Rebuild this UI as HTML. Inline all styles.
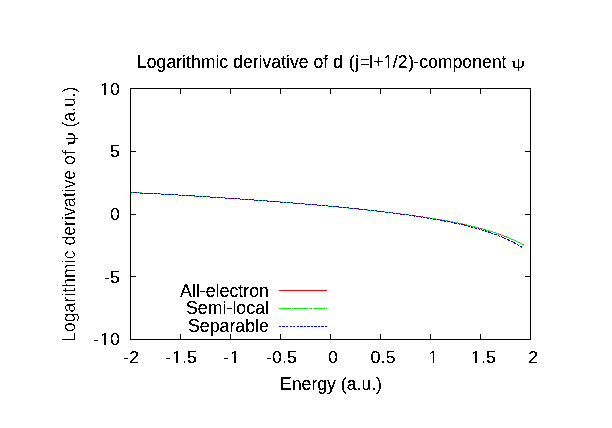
<!DOCTYPE html>
<html><head><meta charset="utf-8"><title>Logarithmic derivative of d (j=l+1/2)-component</title>
<style>
html,body{margin:0;padding:0;background:#fff;width:612px;height:428px;overflow:hidden}
svg{display:block}
</style></head><body>
<svg width="612" height="428" viewBox="0 0 612 428">
<defs><filter id="th" x="-5%" y="-5%" width="110%" height="110%"><feComponentTransfer><feFuncA type="discrete" tableValues="0 0 1 1 1"/></feComponentTransfer></filter><filter id="th2" x="-5%" y="-5%" width="110%" height="110%"><feComponentTransfer><feFuncA type="discrete" tableValues="0 0 0 1 1"/></feComponentTransfer></filter></defs>
<rect width="612" height="428" fill="#fff"/>
<g fill="none" stroke-width="1" shape-rendering="crispEdges">
<polyline points="130.5,192.50 132.0,192.57 133.5,192.63 135.0,192.70 136.5,192.76 138.0,192.83 139.5,192.90 141.0,192.97 142.5,193.05 144.0,193.12 145.5,193.20 147.0,193.27 148.5,193.35 150.0,193.43 151.5,193.51 153.0,193.59 154.5,193.67 156.0,193.75 157.5,193.83 159.0,193.91 160.5,194.00 162.0,194.08 163.5,194.17 165.0,194.25 166.5,194.34 168.0,194.43 169.5,194.51 171.0,194.60 172.5,194.69 174.0,194.78 175.5,194.87 177.0,194.96 178.5,195.05 180.0,195.14 181.5,195.23 183.0,195.32 184.5,195.41 186.0,195.51 187.5,195.60 189.0,195.69 190.5,195.78 192.0,195.88 193.5,195.97 195.0,196.06 196.5,196.16 198.0,196.25 199.5,196.35 201.0,196.44 202.5,196.54 204.0,196.63 205.5,196.73 207.0,196.83 208.5,196.92 210.0,197.02 211.5,197.12 213.0,197.21 214.5,197.31 216.0,197.41 217.5,197.51 219.0,197.61 220.5,197.70 222.0,197.80 223.5,197.90 225.0,198.00 226.5,198.10 228.0,198.20 229.5,198.30 231.0,198.40 232.5,198.50 234.0,198.61 235.5,198.71 237.0,198.81 238.5,198.91 240.0,199.02 241.5,199.12 243.0,199.22 244.5,199.33 246.0,199.43 247.5,199.54 249.0,199.64 250.5,199.75 252.0,199.85 253.5,199.96 255.0,200.07 256.5,200.18 258.0,200.28 259.5,200.39 261.0,200.50 262.5,200.61 264.0,200.72 265.5,200.83 267.0,200.94 268.5,201.06 270.0,201.17 271.5,201.28 273.0,201.40 274.5,201.51 276.0,201.62 277.5,201.74 279.0,201.86 280.5,201.97 282.0,202.09 283.5,202.21 285.0,202.33 286.5,202.45 288.0,202.57 289.5,202.69 291.0,202.81 292.5,202.93 294.0,203.05 295.5,203.17 297.0,203.30 298.5,203.42 300.0,203.55 301.5,203.67 303.0,203.80 304.5,203.93 306.0,204.06 307.5,204.19 309.0,204.32 310.5,204.45 312.0,204.58 313.5,204.71 315.0,204.84 316.5,204.98 318.0,205.11 319.5,205.24 321.0,205.38 322.5,205.52 324.0,205.65 325.5,205.79 327.0,205.93 328.5,206.07 330.0,206.21 331.5,206.35 333.0,206.50 334.5,206.64 336.0,206.78 337.5,206.93 339.0,207.07 340.5,207.22 342.0,207.37 343.5,207.52 345.0,207.66 346.5,207.81 348.0,207.96 349.5,208.12 351.0,208.27 352.5,208.42 354.0,208.58 355.5,208.73 357.0,208.89 358.5,209.05 360.0,209.20 361.5,209.36 363.0,209.52 364.5,209.68 366.0,209.85 367.5,210.01 369.0,210.17 370.5,210.34 372.0,210.50 373.5,210.67 375.0,210.84 376.5,211.01 378.0,211.18 379.5,211.35 381.0,211.53 382.5,211.70 384.0,211.87 385.5,212.05 387.0,212.23 388.5,212.41 390.0,212.59 391.5,212.77 393.0,212.95 394.5,213.14 396.0,213.33 397.5,213.51 399.0,213.70 400.5,213.89 402.0,214.09 403.5,214.28 405.0,214.48 406.5,214.67 408.0,214.87 409.5,215.07 411.0,215.28 412.5,215.48 414.0,215.69 415.5,215.90 417.0,216.11 418.5,216.32 420.0,216.54 421.5,216.76 423.0,216.98 424.5,217.20 426.0,217.43 427.5,217.66 429.0,217.89 430.5,218.12 432.0,218.36 433.5,218.60 435.0,218.84 436.5,219.09 438.0,219.34 439.5,219.59 441.0,219.85 442.5,220.11 444.0,220.37 445.5,220.64 447.0,220.91 448.5,221.19 450.0,221.47 451.5,221.76 453.0,222.05 454.5,222.34 456.0,222.64 457.5,222.94 459.0,223.25 460.5,223.57 462.0,223.89 463.5,224.22 465.0,224.55 466.5,224.89 468.0,225.23 469.5,225.58 471.0,225.94 472.5,226.31 474.0,226.68 475.5,227.06 477.0,227.45 478.5,227.84 480.0,228.24 481.5,228.66 483.0,229.08 484.5,229.51 486.0,229.94 487.5,230.39 489.0,230.85 490.5,231.31 492.0,231.79 493.5,232.28 495.0,232.78 496.5,233.29 498.0,233.81 499.5,234.34 501.0,234.89 502.5,235.45 504.0,236.02 505.5,236.60 507.0,237.20 508.5,237.81 510.0,238.44 511.5,239.08 513.0,239.73 514.5,240.40 516.0,241.09 517.5,241.80 519.0,242.52 520.5,243.26 522.0,244.01 523.5,244.79" stroke="#ff0000"/>
<polyline points="130.5,192.50 132.0,192.57 133.5,192.63 135.0,192.70 136.5,192.76 138.0,192.83 139.5,192.90 141.0,192.97 142.5,193.05 144.0,193.12 145.5,193.20 147.0,193.27 148.5,193.35 150.0,193.43 151.5,193.51 153.0,193.59 154.5,193.67 156.0,193.75 157.5,193.83 159.0,193.91 160.5,194.00 162.0,194.08 163.5,194.17 165.0,194.25 166.5,194.34 168.0,194.43 169.5,194.51 171.0,194.60 172.5,194.69 174.0,194.78 175.5,194.87 177.0,194.96 178.5,195.05 180.0,195.14 181.5,195.23 183.0,195.32 184.5,195.41 186.0,195.51 187.5,195.60 189.0,195.69 190.5,195.78 192.0,195.88 193.5,195.97 195.0,196.06 196.5,196.16 198.0,196.25 199.5,196.35 201.0,196.44 202.5,196.54 204.0,196.63 205.5,196.73 207.0,196.83 208.5,196.92 210.0,197.02 211.5,197.12 213.0,197.21 214.5,197.31 216.0,197.41 217.5,197.51 219.0,197.61 220.5,197.70 222.0,197.80 223.5,197.90 225.0,198.00 226.5,198.10 228.0,198.20 229.5,198.30 231.0,198.40 232.5,198.50 234.0,198.61 235.5,198.71 237.0,198.81 238.5,198.91 240.0,199.02 241.5,199.12 243.0,199.22 244.5,199.33 246.0,199.43 247.5,199.54 249.0,199.64 250.5,199.75 252.0,199.85 253.5,199.96 255.0,200.07 256.5,200.18 258.0,200.28 259.5,200.39 261.0,200.50 262.5,200.61 264.0,200.72 265.5,200.83 267.0,200.94 268.5,201.06 270.0,201.17 271.5,201.28 273.0,201.40 274.5,201.51 276.0,201.62 277.5,201.74 279.0,201.86 280.5,201.97 282.0,202.09 283.5,202.21 285.0,202.33 286.5,202.45 288.0,202.57 289.5,202.69 291.0,202.81 292.5,202.93 294.0,203.05 295.5,203.17 297.0,203.30 298.5,203.42 300.0,203.55 301.5,203.67 303.0,203.80 304.5,203.93 306.0,204.06 307.5,204.19 309.0,204.32 310.5,204.45 312.0,204.58 313.5,204.71 315.0,204.84 316.5,204.98 318.0,205.11 319.5,205.24 321.0,205.38 322.5,205.52 324.0,205.65 325.5,205.79 327.0,205.93 328.5,206.07 330.0,206.21 331.5,206.35 333.0,206.50 334.5,206.64 336.0,206.78 337.5,206.93 339.0,207.07 340.5,207.22 342.0,207.37 343.5,207.52 345.0,207.66 346.5,207.81 348.0,207.96 349.5,208.12 351.0,208.27 352.5,208.42 354.0,208.58 355.5,208.73 357.0,208.89 358.5,209.05 360.0,209.20 361.5,209.36 363.0,209.52 364.5,209.68 366.0,209.85 367.5,210.01 369.0,210.17 370.5,210.34 372.0,210.50 373.5,210.67 375.0,210.84 376.5,211.01 378.0,211.18 379.5,211.35 381.0,211.53 382.5,211.70 384.0,211.87 385.5,212.05 387.0,212.23 388.5,212.41 390.0,212.59 391.5,212.77 393.0,212.95 394.5,213.14 396.0,213.33 397.5,213.51 399.0,213.70 400.5,213.89 402.0,214.09 403.5,214.28 405.0,214.48 406.5,214.67 408.0,214.87 409.5,215.07 411.0,215.28 412.5,215.48 414.0,215.69 415.5,215.90 417.0,216.11 418.5,216.32 420.0,216.54 421.5,216.76 423.0,216.98 424.5,217.20 426.0,217.43 427.5,217.66 429.0,217.89 430.5,218.12 432.0,218.36 433.5,218.60 435.0,218.84 436.5,219.09 438.0,219.34 439.5,219.59 441.0,219.85 442.5,220.11 444.0,220.37 445.5,220.64 447.0,220.91 448.5,221.19 450.0,221.47 451.5,221.76 453.0,222.05 454.5,222.34 456.0,222.64 457.5,222.94 459.0,223.25 460.5,223.57 462.0,223.89 463.5,224.22 465.0,224.55 466.5,224.89 468.0,225.23 469.5,225.58 471.0,225.94 472.5,226.31 474.0,226.68 475.5,227.06 477.0,227.45 478.5,227.84 480.0,228.24 481.5,228.66 483.0,229.08 484.5,229.51 486.0,229.94 487.5,230.39 489.0,230.85 490.5,231.31 492.0,231.79 493.5,232.28 495.0,232.78 496.5,233.29 498.0,233.81 499.5,234.34 501.0,234.89 502.5,235.45 504.0,236.02 505.5,236.60 507.0,237.20 508.5,237.81 510.0,238.44 511.5,239.08 513.0,239.73 514.5,240.40 516.0,241.09 517.5,241.80 519.0,242.52 520.5,243.26 522.0,244.01 523.5,244.79" stroke="#00ff00" stroke-dasharray="16 1 3 1"/>
<polyline points="130.5,192.47 132.0,192.55 133.5,192.63 135.0,192.71 136.5,192.79 138.0,192.87 139.5,192.95 141.0,193.03 142.5,193.11 144.0,193.18 145.5,193.26 147.0,193.34 148.5,193.41 150.0,193.49 151.5,193.57 153.0,193.65 154.5,193.72 156.0,193.80 157.5,193.88 159.0,193.96 160.5,194.04 162.0,194.12 163.5,194.20 165.0,194.28 166.5,194.36 168.0,194.44 169.5,194.52 171.0,194.60 172.5,194.69 174.0,194.77 175.5,194.86 177.0,194.94 178.5,195.03 180.0,195.11 181.5,195.20 183.0,195.29 184.5,195.38 186.0,195.47 187.5,195.56 189.0,195.65 190.5,195.74 192.0,195.83 193.5,195.92 195.0,196.01 196.5,196.11 198.0,196.20 199.5,196.30 201.0,196.39 202.5,196.49 204.0,196.58 205.5,196.68 207.0,196.78 208.5,196.88 210.0,196.98 211.5,197.07 213.0,197.17 214.5,197.27 216.0,197.37 217.5,197.47 219.0,197.58 220.5,197.68 222.0,197.78 223.5,197.88 225.0,197.99 226.5,198.09 228.0,198.19 229.5,198.30 231.0,198.40 232.5,198.51 234.0,198.61 235.5,198.72 237.0,198.82 238.5,198.93 240.0,199.03 241.5,199.14 243.0,199.25 244.5,199.35 246.0,199.46 247.5,199.57 249.0,199.68 250.5,199.79 252.0,199.89 253.5,200.00 255.0,200.11 256.5,200.22 258.0,200.33 259.5,200.44 261.0,200.55 262.5,200.66 264.0,200.77 265.5,200.89 267.0,201.00 268.5,201.11 270.0,201.22 271.5,201.33 273.0,201.45 274.5,201.56 276.0,201.68 277.5,201.79 279.0,201.90 280.5,202.02 282.0,202.14 283.5,202.25 285.0,202.37 286.5,202.48 288.0,202.60 289.5,202.72 291.0,202.84 292.5,202.96 294.0,203.08 295.5,203.20 297.0,203.32 298.5,203.44 300.0,203.56 301.5,203.68 303.0,203.81 304.5,203.93 306.0,204.06 307.5,204.18 309.0,204.31 310.5,204.43 312.0,204.56 313.5,204.69 315.0,204.82 316.5,204.95 318.0,205.08 319.5,205.21 321.0,205.34 322.5,205.48 324.0,205.61 325.5,205.74 327.0,205.88 328.5,206.02 330.0,206.16 331.5,206.29 333.0,206.43 334.5,206.57 336.0,206.72 337.5,206.86 339.0,207.00 340.5,207.15 342.0,207.29 343.5,207.44 345.0,207.59 346.5,207.74 348.0,207.89 349.5,208.04 351.0,208.19 352.5,208.35 354.0,208.50 355.5,208.66 357.0,208.82 358.5,208.98 360.0,209.14 361.5,209.30 363.0,209.46 364.5,209.63 366.0,209.79 367.5,209.96 369.0,210.13 370.5,210.30 372.0,210.47 373.5,210.64 375.0,210.82 376.5,210.99 378.0,211.17 379.5,211.35 381.0,211.53 382.5,211.71 384.0,211.89 385.5,212.08 387.0,212.27 388.5,212.45 390.0,212.64 391.5,212.84 393.0,213.03 394.5,213.22 396.0,213.42 397.5,213.62 399.0,213.82 400.5,214.02 402.0,214.22 403.5,214.43 405.0,214.64 406.5,214.85 408.0,215.06 409.5,215.27 411.0,215.49 412.5,215.71 414.0,215.93 415.5,216.15 417.0,216.38 418.5,216.61 420.0,216.84 421.5,217.07 423.0,217.30 424.5,217.54 426.0,217.78 427.5,218.03 429.0,218.27 430.5,218.52 432.0,218.77 433.5,219.03 435.0,219.29 436.5,219.55 438.0,219.82 439.5,220.09 441.0,220.36 442.5,220.64 444.0,220.92 445.5,221.20 447.0,221.49 448.5,221.79 450.0,222.09 451.5,222.39 453.0,222.70 454.5,223.01 456.0,223.33 457.5,223.65 459.0,223.98 460.5,224.32 462.0,224.66 463.5,225.01 465.0,225.37 466.5,225.73 468.0,226.10 469.5,226.47 471.0,226.86 472.5,227.25 474.0,227.65 475.5,228.06 477.0,228.48 478.5,228.91 480.0,229.34 481.5,229.79 483.0,230.25 484.5,230.71 486.0,231.19 487.5,231.68 489.0,232.19 490.5,232.70 492.0,233.23 493.5,233.77 495.0,234.33 496.5,234.90 498.0,235.48 499.5,236.08 501.0,236.70 502.5,237.33 504.0,237.98 505.5,238.65 507.0,239.33 508.5,240.04 510.0,240.76 511.5,241.51 513.0,242.27 514.5,243.06 516.0,243.87 517.5,244.71 519.0,245.57 520.5,246.45 522.0,247.36 523.5,248.30" stroke="#0000ff" stroke-dasharray="2 1 3 1"/>
<path d="M279 290.5H327" stroke="#ff0000"/>
<path d="M279 308.5H327" stroke="#00ff00" stroke-dasharray="12 1 16 1 3 1 12 1 1 1"/>
<path d="M279 326.5H327" stroke="#0000ff" stroke-dasharray="2 1 3 1 2 2 2 1 2 2 2 1 3 1 2 1 3 1 2 1 3 1 2 1 3 1 2 1"/>
<rect x="130.5" y="88.5" width="400" height="251" stroke="#000"/>
<path d="M130.5 339V334M130.5 88V94M180.5 339V334M180.5 88V94M230.5 339V334M230.5 88V94M280.5 339V334M280.5 88V94M330.5 339V334M330.5 88V94M380.5 339V334M380.5 88V94M430.5 339V334M430.5 88V94M480.5 339V334M480.5 88V94M530.5 339V334M530.5 88V94M130 88.5H136M531 88.5H525M130 151.5H136M531 151.5H525M130 214.5H136M531 214.5H525M130 276.5H136M531 276.5H525M130 339.5H136M531 339.5H525" stroke="#000"/>
</g>
<g font-family="'Liberation Sans', Arial, Helvetica, sans-serif" font-size="18" fill="#000" filter="url(#th)">
<text x="137" y="68" font-size="17.65">Logarithmic derivative of d <tspan dx="1">(</tspan><tspan dx="0.6">j</tspan><tspan dx="0.6">=</tspan><tspan dx="-0.9">l</tspan>+<tspan font-family="NanumGothic, Liberation Sans, sans-serif" dx="-0.8">1</tspan><tspan dx="-0.6">/</tspan>2<tspan dx="0.8">)</tspan><tspan dx="-0.8">-</tspan>component</text>
<text transform="translate(510.9 68.4) scale(1.15 0.78)" font-family="'Liberation Serif', serif" font-size="20">ψ</text>
<g font-size="18">
<text transform="translate(131 363) scale(1 0.93)" text-anchor="middle">-2</text>
<text transform="translate(181 363) scale(1 0.93)" text-anchor="middle">-<tspan font-family="NanumGothic, Liberation Sans, sans-serif">1</tspan>.5</text>
<text transform="translate(231.5 363) scale(1 0.93)" text-anchor="middle">-<tspan font-family="NanumGothic, Liberation Sans, sans-serif">1</tspan></text>
<text transform="translate(281.5 363) scale(1 0.93)" text-anchor="middle">-0.5</text>
<text transform="translate(333 363) scale(1 0.93)" text-anchor="middle">0</text>
<text transform="translate(383 363) scale(1 0.93)" text-anchor="middle">0.5</text>
<text transform="translate(433 363) scale(1 0.93)" text-anchor="middle"><tspan font-family="NanumGothic, Liberation Sans, sans-serif">1</tspan></text>
<text transform="translate(483 363) scale(1 0.93)" text-anchor="middle"><tspan font-family="NanumGothic, Liberation Sans, sans-serif">1</tspan>.5</text>
<text transform="translate(533 363) scale(1 0.93)" text-anchor="middle">2</text>
<text transform="translate(120 95) scale(1 0.93)" text-anchor="end"><tspan font-family="NanumGothic, Liberation Sans, sans-serif">1</tspan>0</text>
<text transform="translate(120 157) scale(1 0.93)" text-anchor="end">5</text>
<text transform="translate(120 220) scale(1 0.93)" text-anchor="end">0</text>
<text transform="translate(120 283) scale(1 0.93)" text-anchor="end">-5</text>
<text transform="translate(120 345) scale(1 0.93)" text-anchor="end">-<tspan font-family="NanumGothic, Liberation Sans, sans-serif">1</tspan>0</text>
</g>
<text x="280" y="390" font-size="17.65">Energy (a.u.)</text>
<g transform="translate(75 340) rotate(-90)" filter="url(#th2)"><text x="-2" y="0" font-size="17.72">Logarithmic derivative of</text>
<text x="212.5" y="0" font-size="17.55">(a.u.)</text></g>
<text transform="translate(75 340) rotate(-90) translate(194.4 0.4) scale(1.08 0.78)" font-family="'Liberation Serif', serif" font-size="20">ψ</text>
<g font-size="17.8">
<text x="269" y="297" text-anchor="end">All-electron</text>
<text x="269" y="314" text-anchor="end">Semi-local</text>
<text x="269" y="332" text-anchor="end">Separable</text>
</g>
</g>
</svg>
</body></html>
